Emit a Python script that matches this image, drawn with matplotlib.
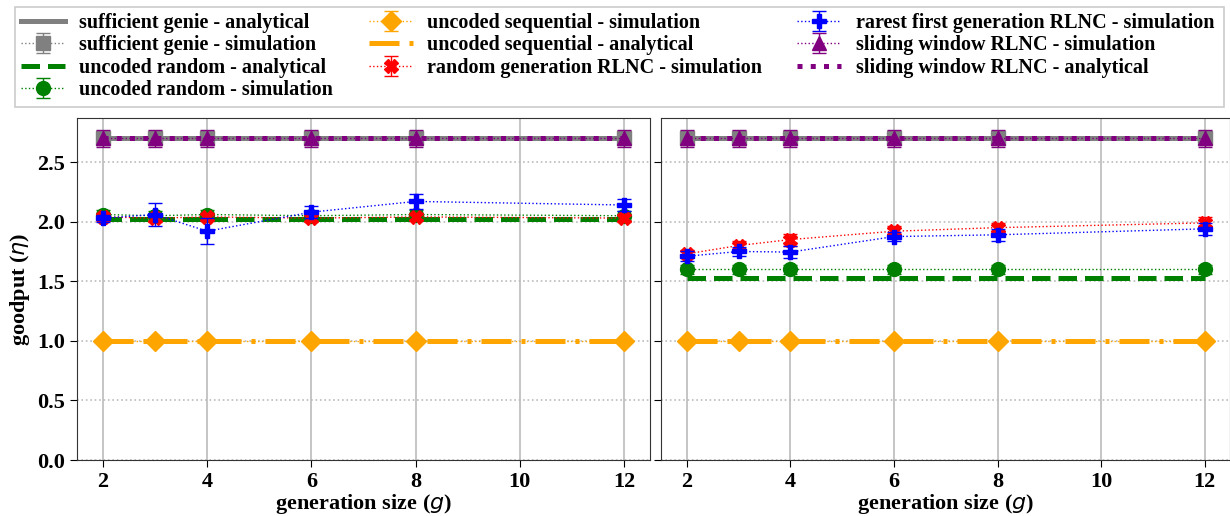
import numpy as np
import matplotlib
matplotlib.use("Agg")
from matplotlib import pyplot as plt
from matplotlib.patches import Rectangle

g = [2, 3, 4, 6, 8, 12]

# left panel
genie_ana_L = [2.70] * 6
genie_sim_L = [2.70, 2.70, 2.70, 2.70, 2.70, 2.70]
genie_err_L = [0.06] * 6
rand_ana_L = [2.02] * 6
rand_sim_L = [2.06, 2.05, 2.06, 2.05, 2.06, 2.05]
rand_err_L = [0.04] * 6
seq_sim_L = [1.0] * 6
seq_err_L = [0.0] * 6
seq_ana_L = [1.0] * 6
rlnc_sim_L = [2.04, 2.03, 2.04, 2.03, 2.04, 2.03]
rlnc_err_L = [0.03, 0.03, 0.03, 0.03, 0.03, 0.03]
rare_sim_L = [2.03, 2.06, 1.92, 2.08, 2.17, 2.14]
rare_err_L = [0.03, 0.10, 0.11, 0.05, 0.06, 0.05]
slide_sim_L = [2.70] * 6
slide_err_L = [0.07] * 6
slide_ana_L = [2.70] * 6

# right panel
genie_ana_R = [2.70] * 6
genie_sim_R = [2.70] * 6
genie_err_R = [0.06] * 6
rand_ana_R = [1.53] * 6
rand_sim_R = [1.60, 1.60, 1.60, 1.60, 1.60, 1.60]
rand_err_R = [0.04] * 6
seq_sim_R = [1.0] * 6
seq_err_R = [0.0] * 6
seq_ana_R = [1.0] * 6
rlnc_sim_R = [1.73, 1.80, 1.85, 1.92, 1.95, 1.99]
rlnc_err_R = [0.03, 0.04, 0.05, 0.04, 0.04, 0.05]
rare_sim_R = [1.71, 1.75, 1.745, 1.875, 1.89, 1.94]
rare_err_R = [0.04, 0.04, 0.05, 0.04, 0.05, 0.05]
slide_sim_R = [2.70] * 6
slide_err_R = [0.07] * 6
slide_ana_R = [2.70] * 6

plt.rcParams['font.family'] = ['Liberation Serif', 'DejaVu Serif']
plt.rcParams['font.weight'] = 'bold'
plt.rcParams['axes.labelweight'] = 'bold'
plt.rcParams['mathtext.fontset'] = 'custom'
plt.rcParams['mathtext.it'] = 'DejaVu Sans:style=italic:weight=normal'
plt.rcParams['mathtext.rm'] = 'DejaVu Sans:weight=normal'

fig = plt.figure(figsize=(12.3, 5.16), dpi=100)
ax1 = fig.add_axes([0.0626, 0.1085, 0.4659, 0.6628])
ax2 = fig.add_axes([0.5374, 0.1085, 0.4630, 0.6628], sharey=ax1)

LW = 3.6


def draw(ax, d):
    h = []
    h.append(ax.plot(g, d['genie_ana'], color='gray', lw=LW, ls='-', label='sufficient genie - analytical', zorder=3)[0])
    h.append(ax.errorbar(g, d['genie_sim'], yerr=d['genie_err'], color='gray', marker='s', ms=10, ls=':', lw=1,
                         capsize=5, label='sufficient genie - simulation', zorder=4))
    h.append(ax.plot(g, d['rand_ana'], color='green', lw=LW, ls=(0, (3.7, 1.6)), label='uncoded random - analytical',
                     zorder=3)[0])
    h.append(ax.errorbar(g, d['rand_sim'], yerr=d['rand_err'], color='green', marker='o', ms=10, ls=':', lw=1,
                         capsize=5, label='uncoded random - simulation', zorder=4))
    h.append(ax.errorbar(g, d['seq_sim'], yerr=d['seq_err'], color='orange', marker='D', ms=10, ls=':', lw=1,
                         capsize=5, label='uncoded sequential - simulation', zorder=4))
    h.append(ax.plot(g, d['seq_ana'], color='orange', lw=LW, ls=(0, (6, 2, 0.8, 2)),
                     label='uncoded sequential - analytical', zorder=3)[0])
    h.append(ax.errorbar(g, d['rlnc_sim'], yerr=d['rlnc_err'], color='red', marker='X', ms=10, ls=':', lw=1,
                         capsize=5, label='random generation RLNC - simulation', zorder=5))
    h.append(ax.errorbar(g, d['rare_sim'], yerr=d['rare_err'], color='blue', marker='P', ms=10, ls=':', lw=1,
                         capsize=5, label='rarest first generation RLNC - simulation', zorder=6))
    h.append(ax.errorbar(g, d['slide_sim'], yerr=d['slide_err'], color='purple', marker='^', ms=10, ls=':', lw=1,
                         capsize=5, label='sliding window RLNC - simulation', zorder=6))
    h.append(ax.plot(g, d['slide_ana'], color='purple', lw=LW, ls=':', label='sliding window RLNC - analytical',
                     zorder=5)[0])

    ax.set_xlim(1.5, 12.5)
    ax.set_ylim(0, 2.87)
    ax.set_xticks([2, 4, 6, 8, 10, 12])
    ax.set_yticks([0.0, 0.5, 1.0, 1.5, 2.0, 2.5])
    ax.grid(axis='x', color='#bbbbbb', ls='-', lw=1.2)
    ax.grid(axis='y', color='#bbbbbb', ls=':', lw=1.2)
    ax.set_axisbelow(True)
    ax.tick_params(labelsize=16, direction='out', length=5)
    ax.set_xlabel('generation size ($g$)', fontsize=16, labelpad=0)
    for s in ax.spines.values():
        s.set_color('#333333')
    return h


handles = draw(ax1, dict(genie_ana=genie_ana_L, genie_sim=genie_sim_L, genie_err=genie_err_L,
                         rand_ana=rand_ana_L, rand_sim=rand_sim_L, rand_err=rand_err_L,
                         seq_sim=seq_sim_L, seq_err=seq_err_L, seq_ana=seq_ana_L,
                         rlnc_sim=rlnc_sim_L, rlnc_err=rlnc_err_L, rare_sim=rare_sim_L, rare_err=rare_err_L,
                         slide_sim=slide_sim_L, slide_err=slide_err_L, slide_ana=slide_ana_L))
draw(ax2, dict(genie_ana=genie_ana_R, genie_sim=genie_sim_R, genie_err=genie_err_R,
               rand_ana=rand_ana_R, rand_sim=rand_sim_R, rand_err=rand_err_R,
               seq_sim=seq_sim_R, seq_err=seq_err_R, seq_ana=seq_ana_R,
               rlnc_sim=rlnc_sim_R, rlnc_err=rlnc_err_R, rare_sim=rare_sim_R, rare_err=rare_err_R,
               slide_sim=slide_sim_R, slide_err=slide_err_R, slide_ana=slide_ana_R))
ax1.set_ylabel('goodput ($\\eta$)', fontsize=16, labelpad=4)
plt.setp(ax2.get_yticklabels(), visible=False)

labels = [h.get_label() for h in handles]
leg = fig.legend(handles, labels, loc='upper left', ncol=3,
                 bbox_to_anchor=(21 / 1230, 1 - 13 / 516),
                 prop={'size': 14.5, 'weight': 'bold'}, frameon=False,
                 handlelength=2.2, handletextpad=0.7, columnspacing=1.75, labelspacing=0.12,
                 borderpad=0, borderaxespad=0)
fig.patches.append(Rectangle((15 / 1230, 1 - 107 / 516), 1209 / 1230, 100 / 516, transform=fig.transFigure,
                             fill=False, edgecolor='#cccccc', lw=1.2))

fig.savefig('out.png', dpi=100)
